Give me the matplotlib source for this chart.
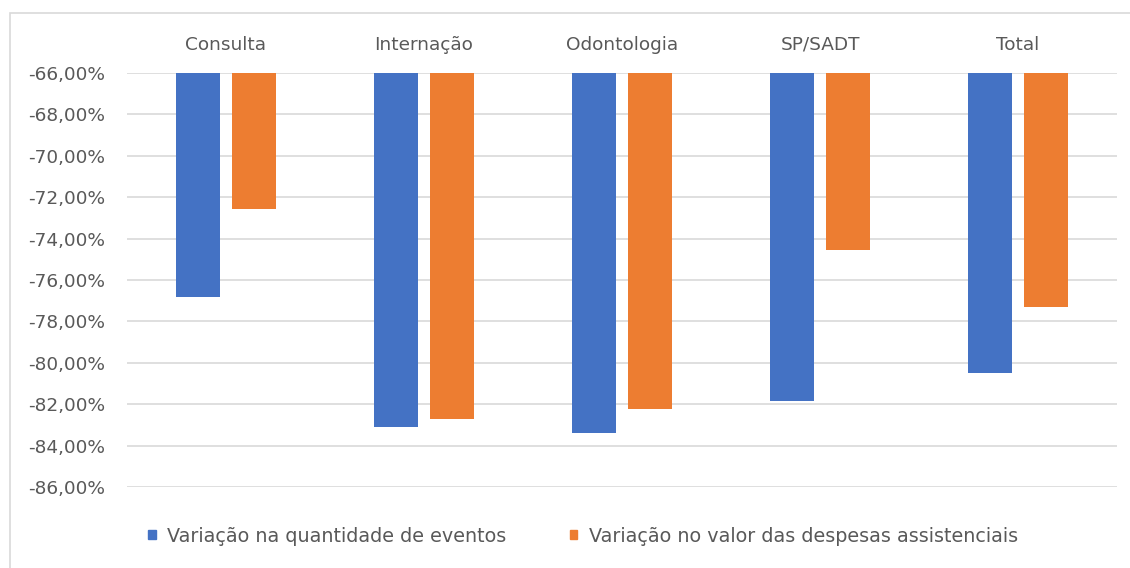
import matplotlib
matplotlib.use("Agg")
import matplotlib.pyplot as plt
from matplotlib.patches import Rectangle, Patch
import numpy as np

categories = ["Consulta", "Internação", "Odontologia", "SP/SADT", "Total"]
var_quantidade = [-76.82, -83.12, -83.41, -81.85, -80.48]
var_valor = [-72.55, -82.71, -82.23, -74.57, -77.29]
series_names = ["Variação na quantidade de eventos",
                "Variação no valor das despesas assistenciais"]
y_ticks = [-66, -68, -70, -72, -74, -76, -78, -80, -82, -84, -86]

BLUE = "#4472C4"
ORANGE = "#ED7D31"
TEXT = "#595959"
GRID = "#D9D9D9"

plt.rcParams["font.family"] = ["DejaVu Sans"]
FS = 13.3
FS_LEG = 13.8

W, H = 1130, 568
fig = plt.figure(figsize=(W / 100, H / 100), dpi=100)

# outer chart border
fig.add_artist(Rectangle((10 / W, -0.1), 1.2, 1 - 13 / H + 0.1, transform=fig.transFigure,
                         fill=False, edgecolor="#D9D9D9", linewidth=1.2))

ax = fig.add_axes([127 / W, 1 - 487 / H, (1117 - 127) / W, (487 - 73) / H])
base = -66
x = np.arange(len(categories))
bw = 0.222
off = 0.1414
ax.bar(x - off, np.array(var_quantidade) - base, bottom=base, width=bw, color=BLUE, zorder=3)
ax.bar(x + off, np.array(var_valor) - base, bottom=base, width=bw, color=ORANGE, zorder=3)

ax.set_xlim(-0.5, len(categories) - 0.5)
ax.set_ylim(-86, -66)
ax.set_yticks(y_ticks)
ax.set_yticklabels([f"{v:.2f}%".replace(".", ",") for v in y_ticks])
ax.set_xticks(x)
ax.set_xticklabels(categories)
ax.xaxis.tick_top()
ax.tick_params(axis="both", length=0, labelsize=FS, colors=TEXT)
ax.tick_params(axis="x", pad=14)
ax.tick_params(axis="y", pad=16)
for s in ax.spines.values():
    s.set_visible(False)
ax.yaxis.grid(True, color=GRID, linewidth=1.2, zorder=0)
ax.set_axisbelow(True)

handles = [Patch(color=BLUE), Patch(color=ORANGE)]
fig.legend(handles, series_names, loc="center", bbox_to_anchor=(583 / W, 1 - 536 / H),
           ncol=2, frameon=False, fontsize=FS_LEG, labelcolor=TEXT,
           handlelength=0.4, handleheight=0.4, handletextpad=0.6, columnspacing=3.3)

fig.savefig("out.png", dpi=100, facecolor="white")
